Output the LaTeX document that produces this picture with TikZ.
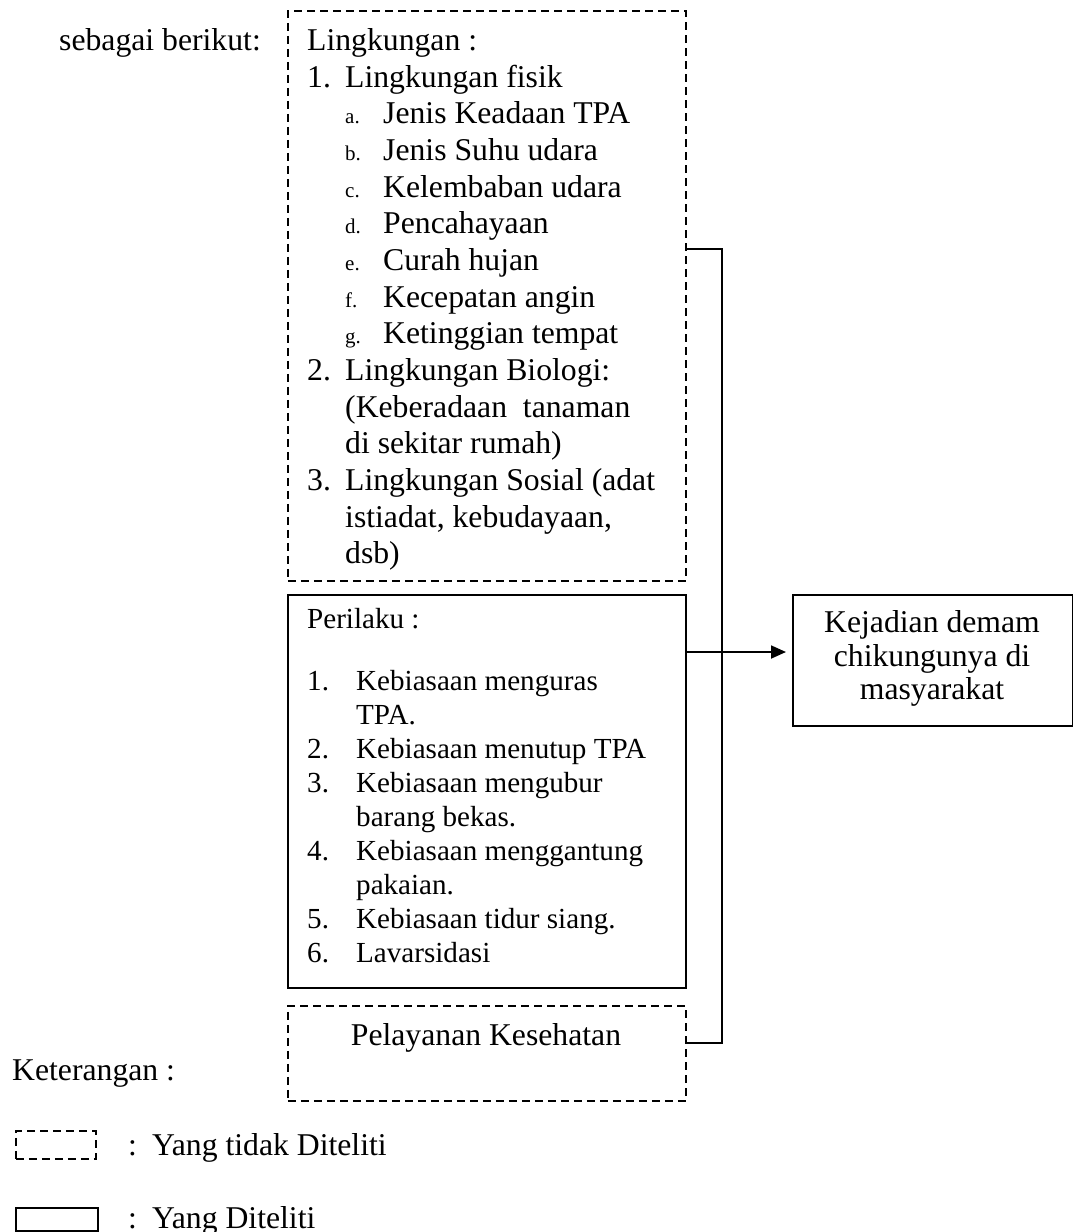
\documentclass[tikz,border=0pt]{standalone}
\usepackage{fontspec}
\setmainfont{Liberation Serif}
\usetikzlibrary{arrows.meta}
\newcommand\fszA{\fontsize{31.7pt}{36.6pt}\selectfont}
\newcommand\fszB{\fontsize{29.1pt}{34pt}\selectfont}
\newcommand\fszC{\fontsize{21pt}{24pt}\selectfont}
\tikzset{
  dbox/.style={draw, line width=1.8pt, dash pattern=on 8pt off 5pt, inner sep=0pt, anchor=north west},
  sbox/.style={draw, line width=1.8pt, inner sep=0pt, anchor=north west},
  ta/.style={inner sep=0pt, anchor=base west, font=\fszA},
  tb/.style={inner sep=0pt, anchor=base west, font=\fszB},
  tc/.style={inner sep=0pt, anchor=base west, font=\fszC},
  conn/.style={line width=1.8pt}
}
\begin{document}
\begin{tikzpicture}[x=1pt,y=-1pt]
\useasboundingbox[fill=white] (0,0) rectangle (1073,1232);
% boxes
\node[dbox, minimum width=398pt, minimum height=570pt] (lk) at (287,10) {};
\node[sbox, minimum width=398pt, minimum height=393pt] (pr) at (287,594) {};
\node[dbox, minimum width=398pt, minimum height=95pt] (pk) at (287,1005) {};
\node[sbox, minimum width=280pt, minimum height=131pt] (kj) at (792,594) {};
% box 1 texts
\node[ta] (sb) at (59,50) {sebagai berikut:};
\node[ta] (l0) at (307,50) {Lingkungan :};
\node[ta] (n1) at (307,87) {1.};
\node[ta] (l1) at (345,87) {Lingkungan fisik};
\node[tc] (ia) at (345,123) {a.};
\node[ta] (ta) at (383,123) {Jenis Keadaan TPA};
\node[tc] (ib) at (345,160) {b.};
\node[ta] (tbb) at (383,160) {Jenis Suhu udara};
\node[tc] (ic) at (345,197) {c.};
\node[ta] (tcc) at (383,197) {Kelembaban udara};
\node[tc] (id) at (345,233) {d.};
\node[ta] (td) at (383,233) {Pencahayaan};
\node[tc] (ie) at (345,270) {e.};
\node[ta] (te) at (383,270) {Curah hujan};
\node[tc] (iff) at (345,307) {f.};
\node[ta] (tf) at (383,307) {Kecepatan angin};
\node[tc] (ig) at (345,343) {g.};
\node[ta] (tg) at (383,343) {Ketinggian tempat};
\node[ta] (n2) at (307,380) {2.};
\node[ta] (l2) at (345,380) {Lingkungan Biologi:};
\node[ta] (l2b) at (345,417) {(Keberadaan\ \ tanaman};
\node[ta] (l2c) at (345,453) {di sekitar rumah)};
\node[ta] (n3) at (307,490) {3.};
\node[ta] (l3) at (345,490) {Lingkungan Sosial (adat};
\node[ta] (l3b) at (345,527) {istiadat, kebudayaan,};
\node[ta] (l3c) at (345,563) {dsb)};
% box 2 texts
\node[tb] (p0) at (307,628) {Perilaku :};
\node[tb] (m1) at (307,690) {1.};
\node[tb] (p1) at (356,690) {Kebiasaan menguras};
\node[tb] (p1b) at (356,724) {TPA.};
\node[tb] (m2) at (307,758) {2.};
\node[tb] (p2) at (356,758) {Kebiasaan menutup TPA};
\node[tb] (m3) at (307,792) {3.};
\node[tb] (p3) at (356,792) {Kebiasaan mengubur};
\node[tb] (p3b) at (356,826) {barang bekas.};
\node[tb] (m4) at (307,860) {4.};
\node[tb] (p4) at (356,860) {Kebiasaan menggantung};
\node[tb] (p4b) at (356,894) {pakaian.};
\node[tb] (m5) at (307,928) {5.};
\node[tb] (p5) at (356,928) {Kebiasaan tidur siang.};
\node[tb] (m6) at (307,962) {6.};
\node[tb] (p6) at (356,962) {Lavarsidasi};
% box 3 text
\node[inner sep=0pt, anchor=base, font=\fszA] (pkt) at (486,1045) {Pelayanan Kesehatan};
% Kejadian text
\node[inner sep=0pt, anchor=base, font=\fszA] (k1) at (932,632) {Kejadian demam};
\node[inner sep=0pt, anchor=base, font=\fszA] (k2) at (932,666) {chikungunya di};
\node[inner sep=0pt, anchor=base, font=\fszA] (k3) at (932,699) {masyarakat};
% connectors
\coordinate (ctop) at (722,249);
\coordinate (cbot) at (722,1043);
\coordinate (arY) at (0,652);
\draw[conn] (ctop -| lk.east) -- (ctop) -- (cbot) -- (cbot -| pk.east);
\draw[conn, -{Triangle[length=15pt,width=13pt]}, shorten >=6pt] (arY -| pr.east) -- (arY -| kj.west);
% legend
\node[ta] (ket) at (12,1080) {Keterangan :};
\node[dbox, minimum width=80pt, minimum height=28pt] (lg1) at (15,1130) {};
\node[ta] (c1) at (128,1155) {:};
\node[ta] (y1) at (152,1155) {Yang tidak Diteliti};
\node[sbox, minimum width=82pt, minimum height=23pt] (lg2) at (15,1207) {};
\node[ta] (c2) at (128,1228) {:};
\node[ta] (y2) at (152,1228) {Yang Diteliti};
\end{tikzpicture}
\end{document}
